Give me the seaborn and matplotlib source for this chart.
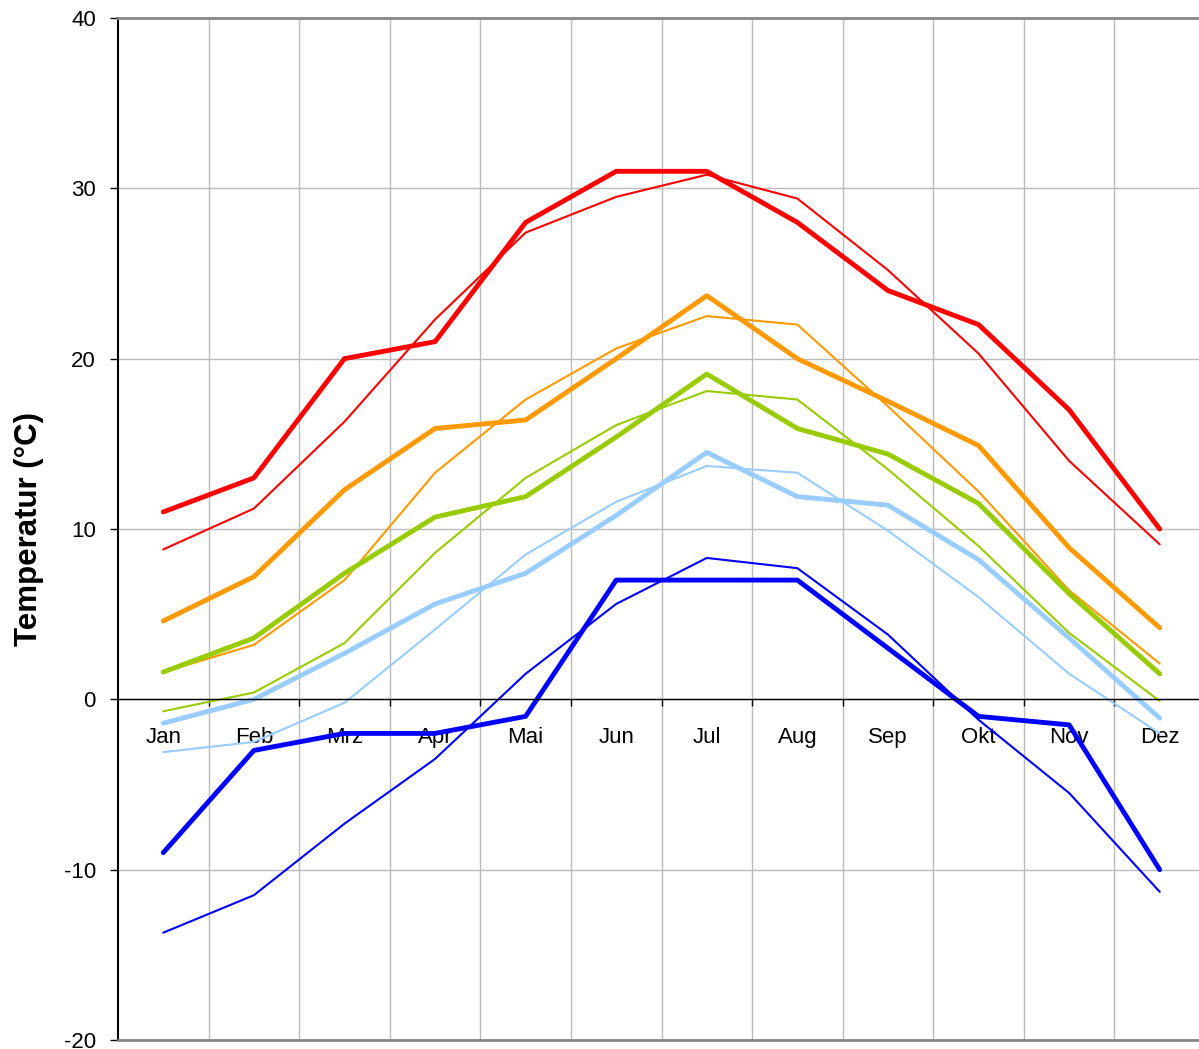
import matplotlib
matplotlib.use("Agg")
import matplotlib.pyplot as plt
import seaborn as sns
import numpy as np
import pandas as pd

months = ["Jan", "Feb", "Mrz", "Apr", "Mai", "Jun", "Jul", "Aug", "Sep", "Okt", "Nov", "Dez"]

red_thick = [11.0, 13.0, 20.0, 21.0, 28.0, 31.0, 31.0, 28.0, 24.0, 22.0, 17.0, 10.0]
red_thin = [8.8, 11.2, 16.3, 22.3, 27.4, 29.5, 30.8, 29.4, 25.2, 20.3, 14.0, 9.1]
orange_thick = [4.6, 7.2, 12.3, 15.9, 16.4, 20.0, 23.7, 20.0, 17.5, 14.9, 8.9, 4.2]
orange_thin = [1.6, 3.2, 7.0, 13.3, 17.6, 20.6, 22.5, 22.0, 17.2, 12.2, 6.4, 2.1]
green_thick = [1.6, 3.6, 7.4, 10.7, 11.9, 15.4, 19.1, 15.9, 14.4, 11.5, 6.2, 1.5]
green_thin = [-0.7, 0.4, 3.3, 8.6, 13.0, 16.1, 18.1, 17.6, 13.5, 9.0, 3.9, -0.1]
lblue_thick = [-1.4, 0.0, 2.7, 5.6, 7.4, 10.8, 14.5, 11.9, 11.4, 8.2, 3.6, -1.1]
lblue_thin = [-3.1, -2.5, -0.2, 4.1, 8.5, 11.6, 13.7, 13.3, 9.9, 6.0, 1.5, -2.0]
blue_thick = [-9.0, -3.0, -2.0, -2.0, -1.0, 7.0, 7.0, 7.0, 3.0, -1.0, -1.5, -10.0]
blue_thin = [-13.7, -11.5, -7.3, -3.5, 1.5, 5.6, 8.3, 7.7, 3.8, -1.2, -5.5, -11.3]

series = [
    ("blue_thin", blue_thin, "#0000FF", 1.5),
    ("lblue_thin", lblue_thin, "#99CCFF", 1.5),
    ("green_thin", green_thin, "#99CC00", 1.5),
    ("orange_thin", orange_thin, "#FF9900", 1.5),
    ("red_thin", red_thin, "#FF0000", 1.5),
    ("blue_thick", blue_thick, "#0000FF", 3.5),
    ("lblue_thick", lblue_thick, "#99CCFF", 3.5),
    ("green_thick", green_thick, "#99CC00", 3.5),
    ("orange_thick", orange_thick, "#FF9900", 3.5),
    ("red_thick", red_thick, "#FF0000", 3.5),
]

sns.set_style("white")
plt.rcParams['font.family'] = ['Liberation Sans', 'DejaVu Sans']
plt.rcParams['text.color'] = 'black'
plt.rcParams['axes.labelcolor'] = 'black'
plt.rcParams['xtick.color'] = 'black'
plt.rcParams['ytick.color'] = 'black'

fig = plt.figure(figsize=(11.99, 10.49), dpi=100)
ax = fig.add_axes([118/1199, 1 - 1040/1049, (1205 - 118)/1199, (1040 - 18)/1049])

x = np.arange(len(months))
for name, vals, col, lw in series:
    df = pd.DataFrame({"x": x, "y": vals})
    sns.lineplot(data=df, x="x", y="y", color=col, linewidth=lw, ax=ax,
                 solid_capstyle="round", solid_joinstyle="round")

ax.set_xlim(-0.5, 11.5)
ax.set_ylim(-20, 40)
ax.set_yticks([-20, -10, 0, 10, 20, 30, 40])
ax.set_yticklabels(["-20", "-10", "0", "10", "20", "30", "40"], fontsize=16)
ax.tick_params(axis="y", which="major", direction="out", length=6, width=1, colors="black", pad=10, left=True)

# x axis along zero
ax.spines["bottom"].set_position(("data", 0))
ax.spines["bottom"].set_color("black")
ax.spines["bottom"].set_linewidth(1.0)
ax.set_xticks(x)
ax.set_xticklabels(months, fontsize=16)
ax.set_xticks(np.arange(0.5, 11.5, 1), minor=True)
ax.tick_params(axis="x", which="major", length=0, pad=20, colors="black")
ax.tick_params(axis="x", which="minor", direction="out", length=5, width=1, color="black", bottom=True)

ax.spines["left"].set_color("black")
ax.spines["left"].set_linewidth(1.5)
ax.spines["top"].set_visible(True)
ax.spines["top"].set_color("#888888")
ax.spines["top"].set_linewidth(2)
ax.spines["right"].set_visible(False)
ax.axhline(-20, color="#888888", linewidth=2, clip_on=False, zorder=5)

ax.grid(which="minor", axis="x", color="#bbbbbb", linewidth=1)
ax.grid(which="major", axis="y", color="#bbbbbb", linewidth=1)
ax.grid(which="major", axis="x", visible=False)
ax.set_axisbelow(True)

ax.set_xlabel("")
ax.set_ylabel("Temperatur (°C)", fontsize=22.5, fontweight="bold", labelpad=14, color="black")

fig.savefig("out.png", dpi=100)
